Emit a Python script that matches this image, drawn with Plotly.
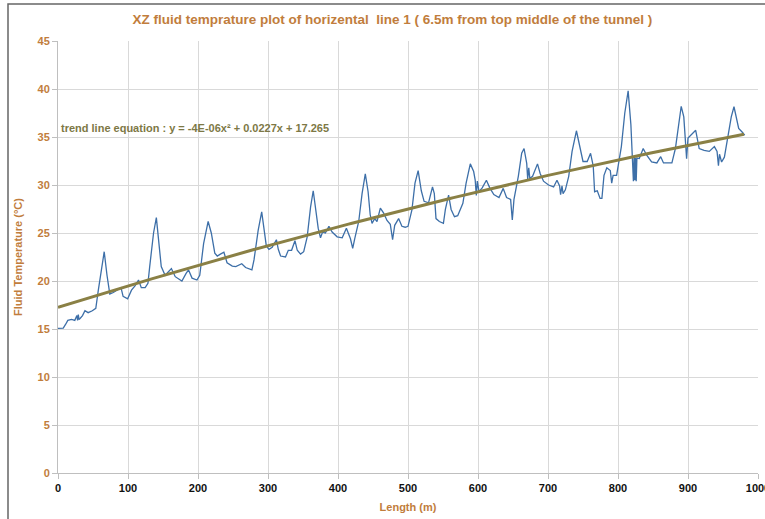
import plotly.graph_objects as go

# Blue fluid temperature series
length_m = [0, 7.5, 11, 14, 19.5, 24, 27, 28, 29, 30, 31.5, 35, 38.5, 43, 49, 54, 57.5, 62, 66, 70, 74, 79, 86, 90, 93, 99.5,
            105, 110, 115, 119, 124.5, 128.5, 131, 136.5, 140.5, 143.5, 147.5, 153, 162, 167.5, 177, 183, 186.5, 191.5,
            198.5, 202.5, 208, 214.5, 219, 224, 227.5, 232, 237, 241.5, 249, 254, 262.5, 268, 277, 280, 286, 291,
            294.3, 297.6, 301.4, 306, 312, 314.7, 318, 325, 329, 333.7, 338.5, 341.8, 346.5, 351, 356, 360.8, 364.6,
            368, 371.7, 375, 378, 382, 387, 391.6, 398.8, 406, 412, 417.8, 421, 424, 429.6, 434.4, 439, 443, 446,
            448.6, 452.4, 455.7, 460.5, 465, 470, 474.7, 478, 481, 486.6, 491.3, 496, 500, 505.6, 510, 514.5, 519,
            523, 529.4, 535, 537.6, 540, 544.8, 550.6, 553.4, 558, 561.6, 566.4, 571, 578.4, 583, 589, 593.8, 596,
            597.6, 599, 601.4, 606, 612, 616.8, 622.6, 630, 636, 640.8, 646.6, 649, 651.4, 657.6, 662.4, 665.8,
            669.6, 671, 672.5, 674, 678, 681.6, 685, 688.8, 693.6, 700.8, 708, 712.8, 716.6, 718, 720, 721.5,
            724.8, 729.6, 734.4, 740.6, 745.4, 750, 756, 760.8, 764.6, 766.6, 770.4, 774.4, 777, 780, 784, 789,
            791, 793, 798, 804.8, 809.7, 814.5, 818.4, 820.8, 822, 823, 824, 825, 826, 827, 830.4, 836, 841, 848,
            855.5, 861, 865, 872.5, 877, 882, 887, 890.3, 894, 896.6, 898, 900, 906, 911, 916, 923, 930.4, 937.7,
            941.5, 943.5, 945, 948, 952, 957, 961.8, 965.7, 969, 972.4, 977, 981]
fluid_temp = [15.07, 15.1, 15.5, 15.9, 16.0, 15.9, 16.4, 15.9, 16.5, 16.0, 16.1, 16.4, 16.9, 16.7, 16.9, 17.15, 19.0, 21.2,
              23.05, 20.6, 18.65, 18.8, 19.1, 19.3, 18.4, 18.15, 19.05, 19.5, 20.1, 19.3, 19.3, 19.75, 21.5, 25.0,
              26.6, 24.6, 21.5, 20.6, 21.3, 20.45, 20.0, 20.8, 21.15, 20.3, 20.1, 20.6, 23.9, 26.2, 25.0, 22.9,
              22.6, 22.8, 23.0, 21.9, 21.55, 21.5, 21.8, 21.4, 21.15, 22.2, 25.3, 27.2, 25.3, 23.65, 23.3, 23.5,
              24.3, 23.3, 22.6, 22.5, 23.2, 23.2, 24.2, 23.2, 22.8, 23.05, 24.6, 27.7, 29.4, 27.7, 25.5, 24.5,
              25.1, 25.0, 25.7, 25.1, 24.6, 24.5, 25.5, 24.4, 23.4, 24.45, 26.2, 29.1, 31.15, 29.3, 26.9, 26.0,
              26.5, 26.2, 27.6, 27.1, 26.3, 25.9, 24.3, 25.8, 26.5, 25.7, 25.6, 25.7, 27.4, 30.2, 31.5, 29.4,
              28.3, 28.15, 29.8, 29.1, 26.5, 26.2, 26.0, 27.45, 28.95, 27.45, 26.7, 26.8, 28.1, 30.2, 32.2, 31.4,
              30.5, 28.9, 30.4, 29.3, 29.7, 30.5, 29.7, 29.0, 28.7, 29.65, 28.7, 28.5, 26.35, 28.5, 30.9, 33.3,
              33.8, 32.25, 30.6, 31.8, 30.7, 30.9, 31.5, 32.2, 31.2, 30.4, 30.0, 29.8, 30.5, 29.9, 29.0, 29.9, 29.1,
              29.5, 30.9, 33.5, 35.65, 34.0, 32.45, 32.45, 33.3, 32.0, 29.3, 29.4, 28.6, 28.6, 31.0, 31.8, 31.5,
              30.2, 31.0, 31.0, 34.0, 37.5, 39.8, 36.3, 33.1, 30.4, 33.0, 30.5, 32.8, 30.4, 32.8, 32.75, 33.8, 33.1,
              32.4, 32.3, 32.95, 32.3, 32.3, 32.3, 33.8, 36.8, 38.2, 37.1, 34.0, 32.75, 34.9, 35.4, 35.7, 33.8,
              33.6, 33.5, 34.0, 33.5, 32.0, 33.2, 32.4, 32.9, 35.2, 37.1, 38.15, 37.1, 35.9, 35.55, 35.2]

# Trend line coefficients (quadratic)
trend_a = -4.4e-6
trend_b = 0.0227
trend_c = 17.265
trend_x = [i * 5 for i in range(0, 197)]
trend_y = [trend_a * x * x + trend_b * x + trend_c for x in trend_x]

x_ticks = list(range(0, 1001, 100))
y_ticks = list(range(0, 46, 5))

title_text = "XZ fluid temprature plot of horizental  line 1 ( 6.5m from top middle of the tunnel )"
eq_text = "trend line equation : y = -4E-06x² + 0.0227x + 17.265"

ORANGE = "#c17d3c"
FONT = "Liberation Sans Narrow, Liberation Sans, Arial, sans-serif"

fig = go.Figure()
fig.add_trace(go.Scatter(x=length_m, y=fluid_temp, mode="lines",
                         line=dict(color="#3d6fa8", width=1.3), showlegend=False))
fig.add_trace(go.Scatter(x=trend_x, y=trend_y, mode="lines",
                         line=dict(color="#8a8045", width=3), showlegend=False))

fig.update_layout(
    width=765, height=519,
    margin=dict(l=58, r=7, t=41, b=46, autoexpand=False),
    paper_bgcolor="white", plot_bgcolor="white",
    title=dict(text="<b>" + title_text + "</b>", x=0.513, xanchor="center", y=0.962, yanchor="middle",
               font=dict(family=FONT, size=13.5, color=ORANGE), automargin=False),
    font=dict(family=FONT),
    xaxis=dict(range=[0, 1000], tickvals=x_ticks, ticktext=["<b>%d</b>" % v for v in x_ticks],
               tickfont=dict(family=FONT, size=11, color="#111111"), automargin=False,
               ticklabeloverflow="allow",
               showgrid=True, gridcolor="#d9d9d9", gridwidth=1,
               showline=True, linecolor="#bfbfbf", ticks="outside", ticklen=5, tickcolor="#bfbfbf",
               zeroline=False,
               title=dict(text="<b>Length (m)</b>", font=dict(family=FONT, size=11, color=ORANGE), standoff=10)),
    yaxis=dict(range=[0, 45], tickvals=y_ticks, ticktext=["<b>%d</b>" % v for v in y_ticks],
               tickfont=dict(family=FONT, size=11, color=ORANGE), automargin=False,
               showgrid=True, gridcolor="#d9d9d9", gridwidth=1,
               showline=True, linecolor="#bfbfbf", ticks="outside", ticklen=5, tickcolor="#bfbfbf",
               zeroline=False,
               title=dict(text="<b>Fluid Temperature (°C)</b>", font=dict(family=FONT, size=11, color=ORANGE), standoff=12)),
)

fig.add_annotation(x=1, y=35.9, xref="x", yref="y", text="<b>" + eq_text + "</b>", showarrow=False,
                   xanchor="left", yanchor="middle", font=dict(family=FONT, size=11, color="#7d7845"))

# frame (left and top edges of the image border)
top_y = (473 - 4) / 432
left_x = -50 / 700
fig.add_shape(type="rect", xref="paper", yref="paper", x0=left_x, x1=1.2, y0=-0.3, y1=top_y,
              line=dict(color="#666666", width=1.5), fillcolor="rgba(0,0,0,0)", layer="above")

fig.write_html("out.html", config={"displayModeBar": False},
               post_script="document.body.style.margin='0px';")
